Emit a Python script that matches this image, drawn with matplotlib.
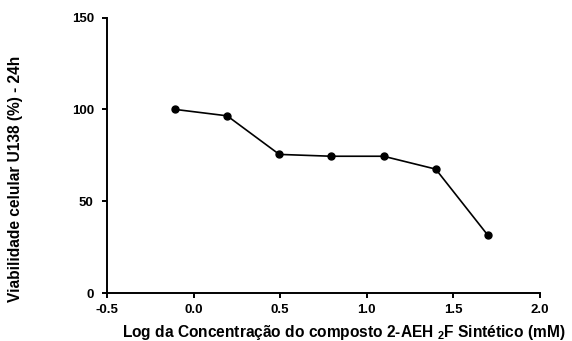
import matplotlib
matplotlib.use("Agg")
import matplotlib.pyplot as plt

# Viabilidade celular U138 após 24h vs log da concentração (mM)
log_conc = [-0.107, 0.194, 0.495, 0.796, 1.097, 1.398, 1.699]
viabilidade = [100.0, 96.5, 75.5, 74.5, 74.5, 67.5, 31.5]

x_ticks = [-0.5, 0.0, 0.5, 1.0, 1.5, 2.0]
x_ticklabels = ["-0.5", "0.0", "0.5", "1.0", "1.5", "2.0"]
y_ticks = [0, 50, 100, 150]

plt.rcParams["font.family"] = ["Liberation Sans", "DejaVu Sans"]
plt.rcParams["font.weight"] = "bold"
plt.rcParams["mathtext.fontset"] = "custom"
plt.rcParams["mathtext.rm"] = "Liberation Sans:bold"
plt.rcParams["mathtext.bf"] = "Liberation Sans:bold"

fig = plt.figure(figsize=(5.72, 3.41), dpi=100)
ax = fig.add_axes([0.187, 0.1405, 0.757, 0.808])

ax.plot(log_conc, viabilidade, color="black", lw=1.2,
        marker="o", markersize=5, markerfacecolor="black", markeredgecolor="black")

ax.set_xlim(-0.5, 2.0)
ax.set_ylim(0, 150)
ax.set_xticks(x_ticks)
ax.set_xticklabels(x_ticklabels)
ax.set_yticks(y_ticks)

for side in ("top", "right"):
    ax.spines[side].set_visible(False)
for side in ("left", "bottom"):
    ax.spines[side].set_linewidth(1.4)
ax.tick_params(direction="out", length=3.5, width=1.4, labelsize=9.5)
ax.tick_params(axis="x", pad=4)
ax.tick_params(axis="y", pad=6)
for lbl in ax.get_xticklabels() + ax.get_yticklabels():
    lbl.set_fontweight("bold")

ax.set_xlabel(r"Log da Concentração do composto 2-AEH $_{\mathbf{2}}$F Sintético (mM)",
              fontsize=11.2, fontweight="bold")
ax.set_ylabel("Viabilidade celular U138 (%) - 24h", fontsize=11.2, fontweight="bold")
ax.xaxis.set_label_coords(0.547, -0.108)
ax.yaxis.set_label_coords(-0.194, 0.416)

fig.savefig("out.png", dpi=100)
